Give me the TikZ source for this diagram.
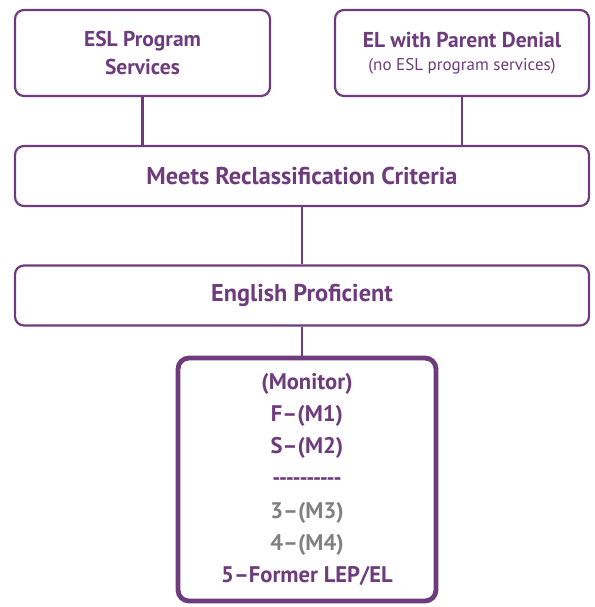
\documentclass[tikz,border=0pt]{standalone}
\usepackage{fontspec}
\setmainfont{PT Sans}
\definecolor{plum}{RGB}{110,60,124}
\definecolor{greytext}{RGB}{128,128,128}

\begin{document}
\begin{tikzpicture}[x=1pt, y=-1pt, plum,
    box/.style = {draw=plum, line width=2.2pt, rounded corners=9pt, align=center,
                  font=\fontsize{21.5}{28}\selectfont\bfseries, text=plum},
    wide/.style = {box, minimum width=574pt, minimum height=60pt,
                  font=\fontsize{24.3}{28}\selectfont\bfseries},
    monitor/.style = {box, line width=4.8pt, rounded corners=11pt,
                  minimum width=258pt, minimum height=243pt,
                  font=\fontsize{22.6}{32.3}\selectfont\bfseries},
    link/.style = {draw=plum, line width=2.2pt}]
    \useasboundingbox (0,0) rectangle (594,607);
    \node[box, minimum width=255pt, minimum height=86pt] (esl) at (142.5,53) {ESL Program\\Services};
    \node[box, minimum width=254pt, minimum height=86pt] (denial) at (462,53)
        {EL with Parent Denial\\[-5pt]{\fontsize{17}{20}\selectfont\mdseries (no ESL program services)}};
    \node[wide] (meets) at (302,176) {Meets Reclassification Criteria};
    \node[wide] (prof) at (302,295.5) {English Proficient};
    \node[monitor] (mon) at (307,479.5)
        {(Monitor)\\F--(M1)\\S--(M2)\\-{}-{}-{}-{}-{}-{}-{}-{}-{}-\\
         {\color{greytext}3--(M3)}\\{\color{greytext}4--(M4)}\\5--Former LEP/EL};
    \draw[link] (esl.south) -- (esl.south |- meets.north);
    \draw[link] (denial.south) -- (denial.south |- meets.north);
    \draw[link] (meets.south) -- (meets.south |- prof.north);
    \draw[link] (prof.south) -- (prof.south |- mon.north);
\end{tikzpicture}
\end{document}
